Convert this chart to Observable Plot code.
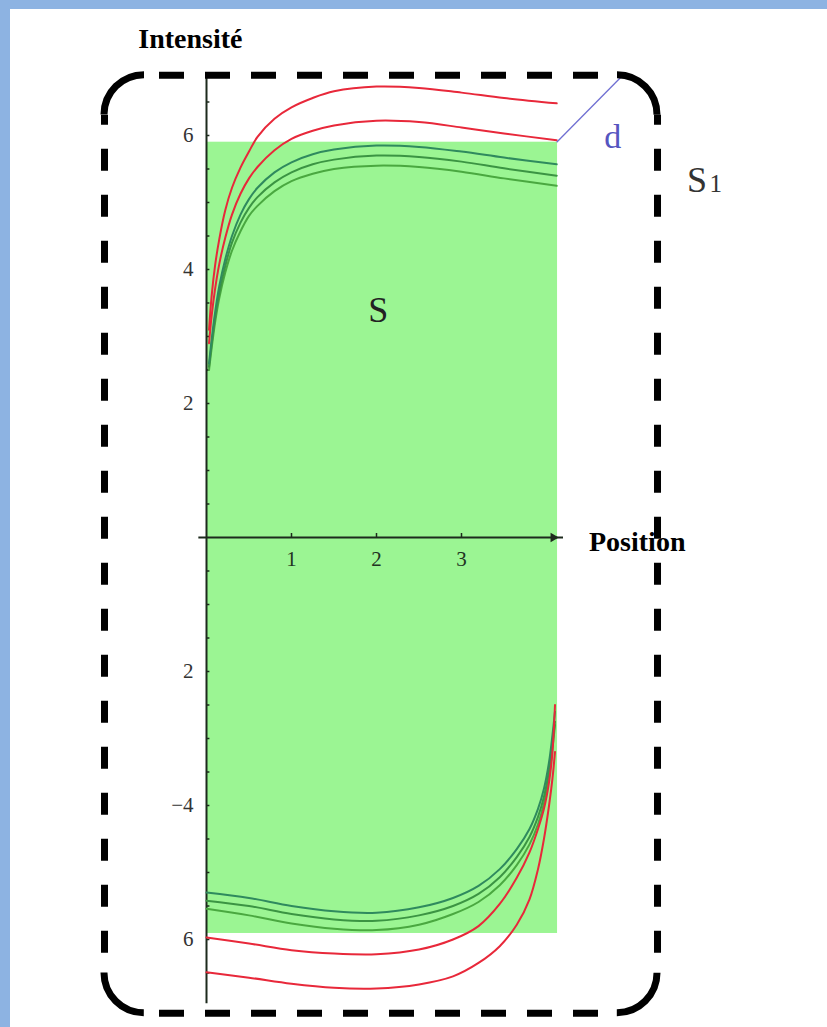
<!DOCTYPE html>
<html><head><meta charset="utf-8">
<script src="https://cdn.jsdelivr.net/npm/d3@7"></script>
<script src="https://cdn.jsdelivr.net/npm/@observablehq/plot@0.6"></script>
<style>
html,body{margin:0;padding:0;background:#8db3e2;width:827px;height:1027px;overflow:hidden}
#chart{position:absolute;left:10px;top:9px;width:817px;height:1018px;background:#fff}
</style></head><body><div id="chart"></div>
<script>
// ---- data ----
const topX      = [0.03, 0.06, 0.1, 0.15, 0.22, 0.3, 0.4, 0.5, 0.6, 0.8, 1.0, 1.25, 1.5, 2.0, 2.5, 3.0, 3.5, 4.12];
const topRed1   = [3.1, 3.6, 4.05, 4.45, 4.88, 5.22, 5.52, 5.76, 5.98, 6.25, 6.42, 6.56, 6.66, 6.73, 6.71, 6.64, 6.56, 6.48];
const topRed2   = [2.9, 3.3, 3.7, 4.08, 4.47, 4.82, 5.13, 5.36, 5.53, 5.78, 5.95, 6.07, 6.15, 6.22, 6.2, 6.12, 6.03, 5.93];
const topGreen1 = [2.6, 2.95, 3.35, 3.75, 4.15, 4.5, 4.82, 5.05, 5.22, 5.45, 5.6, 5.72, 5.79, 5.85, 5.83, 5.76, 5.67, 5.57];
const topGreen2 = [2.55, 2.88, 3.27, 3.65, 4.05, 4.4, 4.7, 4.92, 5.08, 5.3, 5.45, 5.57, 5.64, 5.7, 5.68, 5.61, 5.51, 5.4];
const topGreen3 = [2.5, 2.82, 3.2, 3.57, 3.95, 4.28, 4.57, 4.8, 4.95, 5.17, 5.32, 5.43, 5.5, 5.55, 5.53, 5.46, 5.36, 5.25];

const botX      = [0, 0.5, 1.0, 1.5, 2.0, 2.5, 2.9, 3.2, 3.45, 3.65, 3.8, 3.9, 3.97, 4.03, 4.07, 4.1];
const botRed1   = [-6.49, -6.57, -6.66, -6.72, -6.73, -6.67, -6.55, -6.35, -6.1, -5.78, -5.4, -4.95, -4.5, -4.0, -3.6, -3.2];
const botRed2   = [-5.97, -6.06, -6.16, -6.21, -6.22, -6.15, -6.0, -5.8, -5.47, -5.08, -4.7, -4.35, -4.05, -3.65, -3.2, -2.5];
const botGreen1 = [-5.3, -5.38, -5.5, -5.58, -5.6, -5.52, -5.38, -5.2, -4.95, -4.65, -4.35, -4.05, -3.75, -3.35, -2.95, -2.6];
const botGreen2 = [-5.42, -5.5, -5.62, -5.7, -5.72, -5.64, -5.5, -5.32, -5.07, -4.77, -4.47, -4.17, -3.87, -3.47, -3.07, -2.75];
const botGreen3 = [-5.54, -5.64, -5.76, -5.84, -5.86, -5.78, -5.62, -5.44, -5.19, -4.89, -4.58, -4.28, -3.97, -3.57, -3.15, -2.8];

const yTickValues = [6, 4, 2, -2, -4, -6];
const yTickLabels = ["6", "4", "2", "2", "\u22124", "6"];
const xTickValues = [1, 2, 3];
const xTickLabels = ["1", "2", "3"];
const yMinorTicks = [-6.5, -6, -5.5, -5, -4.5, -4, -3.5, -3, -2.5, -2, -1.5, -1, -0.5, 0.5, 1, 1.5, 2, 2.5, 3, 3.5, 4, 4.5, 5, 5.5, 6, 6.5];

// region S (green) and envelope S1 (dashed)
const regionS  = [{x1: 0, x2: 4.13, y1: -5.91, y2: 5.9}];
const regionS1 = [{x1: -1.2, x2: 5.306, y1: -7.1, y2: 6.9}];
const distanceD = [{x1: 4.12, y1: 5.9, x2: 4.93, y2: 6.94}];

// ---- layout ----
const W = 817, H = 1018, PX = 85, PY = 67, X0 = 196, Y0 = 528;
const R = 40;
const red = "#e8283a";
const greens = ["#2f8a5e", "#3b9443", "#4aa840"];

const series = [
  {xs: topX, ys: topGreen3, color: greens[2]},
  {xs: topX, ys: topGreen2, color: greens[1]},
  {xs: topX, ys: topGreen1, color: greens[0]},
  {xs: botX, ys: botGreen3, color: greens[2]},
  {xs: botX, ys: botGreen2, color: greens[1]},
  {xs: botX, ys: botGreen1, color: greens[0]},
  {xs: topX, ys: topRed2, color: red},
  {xs: topX, ys: topRed1, color: red},
  {xs: botX, ys: botRed2, color: red},
  {xs: botX, ys: botRed1, color: red}
];

const f = regionS1[0];
const Wp = (f.x2 - f.x1) * PX, Hp = (f.y2 - f.y1) * PY;
const A = Math.PI * R / 2;
const cornerDash = [0, Wp - 2*R, A, Hp - 2*R, A, Wp - 2*R, A, Hp - 2*R, A].join(",");
const rx = R / PX, ry = R / PY;
const serif = "Liberation Serif, Times New Roman, serif";

const chart = Plot.plot({
  width: W, height: H, margin: 0,
  x: {domain: [-X0/PX, (W - X0)/PX], axis: null},
  y: {domain: [(Y0 - H)/PY, Y0/PY], axis: null},
  style: {background: "transparent", fontFamily: serif},
  marks: [
    Plot.rect(regionS, {x1: "x1", x2: "x2", y1: "y1", y2: "y2", fill: "#9bf593"}),
    // axes
    Plot.ruleX([0], {y1: -6.96, y2: 6.92, stroke: "#1d2a1d", strokeWidth: 2}),
    Plot.ruleY([0], {x1: -0.09, x2: 4.2, stroke: "#1d2a1d", strokeWidth: 2}),
    Plot.dot([{x: 4.08, y: 0}], {x: "x", y: "y", symbol: "triangle2", rotate: 90, r: 4.5, fill: "#1d2a1d", stroke: "none"}),
    Plot.ruleY(yMinorTicks, {x1: 0, x2: 0.04, stroke: "#1d2a1d", strokeWidth: 1.5}),
    Plot.ruleX(xTickValues, {y1: 0, y2: 0.06, stroke: "#1d2a1d", strokeWidth: 1.5}),
    Plot.text(yTickValues, {x: 0, y: d => d, text: (d, i) => yTickLabels[i], dx: -13, textAnchor: "end", fontSize: 21, fill: "#333", fontFamily: serif}),
    Plot.text(xTickValues, {x: d => d, y: 0, text: (d, i) => xTickLabels[i], dy: 22, fontSize: 21, fill: "#223322", fontFamily: serif}),
    // curves
    ...series.map(s => Plot.line(d3.zip(s.xs, s.ys), {x: d => d[0], y: d => d[1], stroke: s.color, strokeWidth: 2, curve: "catmull-rom"})),
    // distance d
    Plot.link(distanceD, {x1: "x1", y1: "y1", x2: "x2", y2: "y2", stroke: "#6f6fd2", strokeWidth: 1.3}),
    // dashed envelope S1: solid corners + dashed edges
    Plot.rect(regionS1, {x1: "x1", x2: "x2", y1: "y1", y2: "y2", rx: R, ry: R, fill: "none", stroke: "#000", strokeWidth: 7, strokeDasharray: cornerDash}),
    Plot.ruleY([f.y2], {x1: f.x1 + rx, x2: f.x2 - rx, stroke: "#000", strokeWidth: 7, strokeDasharray: "25,21", strokeDashoffset: 31}),
    Plot.ruleY([f.y1], {x1: f.x1 + rx, x2: f.x2 - rx, stroke: "#000", strokeWidth: 7, strokeDasharray: "25,21", strokeDashoffset: 31}),
    Plot.ruleX([f.x1], {y1: f.y1 + ry, y2: f.y2 - ry, stroke: "#000", strokeWidth: 7, strokeDasharray: "22,24", strokeDashoffset: 26}),
    Plot.ruleX([f.x2], {y1: f.y1 + ry, y2: f.y2 - ry, stroke: "#000", strokeWidth: 7, strokeDasharray: "22,24", strokeDashoffset: 26}),
    // labels
    Plot.text(["Intensité"], {x: -0.19, y: 7.44, text: d => d, fontSize: 28, fontWeight: "bold", fill: "#000", fontFamily: serif}),
    Plot.text(["Position"], {x: 4.5, y: -0.07, text: d => d, textAnchor: "start", fontSize: 28, fontWeight: "bold", fill: "#000", fontFamily: serif}),
    Plot.text(["S"], {x: 2.02, y: 3.39, text: d => d, fontSize: 36, fill: "#222", fontFamily: serif}),
    Plot.text(["d"], {x: 4.78, y: 5.97, text: d => d, fontSize: 34, fill: "#5555c0", fontFamily: serif}),
    Plot.text(["S"], {x: 5.77, y: 5.33, text: d => d, fontSize: 36, fill: "#333", fontFamily: serif}),
    Plot.text(["1"], {x: 5.99, y: 5.27, text: d => d, fontSize: 25, fill: "#333", fontFamily: serif})
  ]
});
document.getElementById("chart").appendChild(chart);
</script></body></html>
